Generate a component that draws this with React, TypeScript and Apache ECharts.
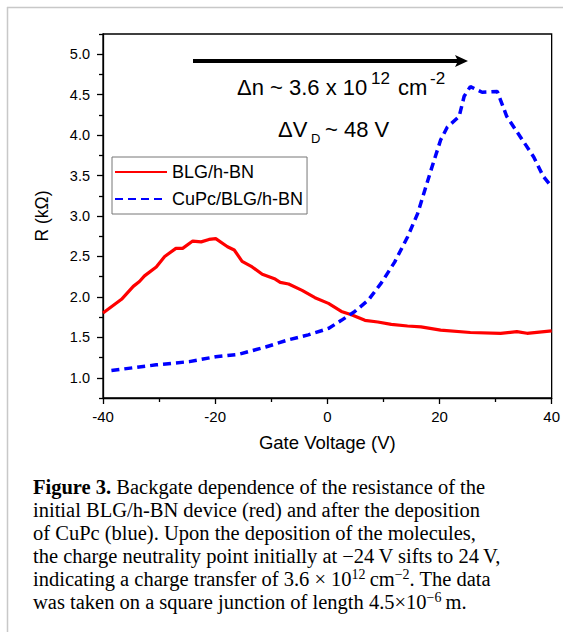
import React, { useEffect, useRef } from 'react';
import * as echarts from 'echarts';

const seriesNames = ['BLG/h-BN', 'CuPc/BLG/h-BN'];
const redV = [-40, -36.7, -34.6, -33.5, -32.6, -30.5, -29, -27, -25.8, -24, -22.5, -21.1, -19.9, -17.8, -16.6, -15.2, -13.4, -11.6, -9.3, -8.4, -6.9, -4.5, -2.2, 0.2, 2.5, 4.3, 6.7, 9, 11.4, 14.3, 16.7, 20.2, 25.5, 30.9, 33.8, 35.6, 40];
const redR = [1.8, 1.97, 2.13, 2.19, 2.26, 2.37, 2.5, 2.6, 2.6, 2.69, 2.68, 2.71, 2.72, 2.62, 2.58, 2.44, 2.37, 2.28, 2.22, 2.18, 2.16, 2.08, 1.99, 1.92, 1.82, 1.78, 1.71, 1.69, 1.66, 1.64, 1.63, 1.59, 1.56, 1.55, 1.57, 1.55, 1.58];
const blueV = [-38.5, -30.5, -24.6, -19.9, -15.8, -11, -6.9, -3.4, 0.2, 2.5, 4.9, 7.3, 9.6, 12, 14.3, 16.1, 18.5, 20.2, 21.4, 23.5, 24.4, 25.5, 27.6, 30.3, 32, 34.4, 36.8, 38.5, 40];
const blueR = [1.09, 1.16, 1.2, 1.26, 1.29, 1.38, 1.47, 1.53, 1.61, 1.71, 1.82, 1.96, 2.17, 2.43, 2.74, 3.03, 3.57, 3.94, 4.1, 4.23, 4.48, 4.6, 4.53, 4.54, 4.23, 3.98, 3.73, 3.49, 3.36];
const yMajor = [1.0, 1.5, 2.0, 2.5, 3.0, 3.5, 4.0, 4.5, 5.0];
const yMinor = [0.75, 1.25, 1.75, 2.25, 2.75, 3.25, 3.75, 4.25, 4.75, 5.25];
const xName = 'Gate Voltage (V)';
const yName = 'R (kΩ)';
const captionLines = [
  '{b|Figure 3.} Backgate dependence of the resistance of the',
  'initial BLG/h-BN device (red) and after the deposition',
  'of CuPc (blue). Upon the deposition of the molecules,',
  'the charge neutrality point initially at \u221224\u2009V sifts to 24\u2009V,',
  'indicating a charge transfer of 3.6 \u00d7 10{sup|12}\u2009cm{sup|\u22122}. The data',
  'was taken on a square junction of length 4.5\u00d710{sup|\u22126}\u2009m.',
];

const SANS = '"Liberation Sans", Arial, sans-serif';
const SERIF = '"Liberation Serif", "Times New Roman", serif';

export default function App() {
  const ref = useRef<HTMLDivElement>(null);
  useEffect(() => {
    if (!ref.current) return;
    const chart = echarts.init(ref.current, undefined, { renderer: 'svg' });
    const pair = (xs: number[], ys: number[]) => xs.map((x, i) => [x, ys[i]]);
    chart.setOption({
      animation: false,
      textStyle: { fontFamily: SANS },
      grid: { left: 103, top: 34, right: 8, bottom: 240, show: true, borderColor: '#000', borderWidth: 1.3, backgroundColor: 'transparent' },
      xAxis: {
        type: 'value', min: -40, max: 40, interval: 20,
        name: xName, nameLocation: 'middle', nameGap: 35,
        nameTextStyle: { fontSize: 18.5, color: '#000', fontFamily: SANS },
        axisLine: { show: true, onZero: false, lineStyle: { color: '#000', width: 1.3 } },
        axisTick: { show: true, length: 6, lineStyle: { color: '#000', width: 1.3 } },
        minorTick: { show: true, splitNumber: 2, length: 4, lineStyle: { color: '#000', width: 1.3 } },
        axisLabel: { color: '#000', fontSize: 15, margin: 11, fontFamily: SANS },
        splitLine: { show: false },
      },
      yAxis: [
        {
          type: 'value', min: 0.75, max: 5.25,
          name: yName, nameLocation: 'middle', nameGap: 52, nameRotate: 90,
          nameTextStyle: { fontSize: 17.5, color: '#000', fontFamily: SANS },
          axisLine: { show: true, onZero: false, lineStyle: { color: '#000', width: 1.3 } },
          axisTick: { show: true, length: 6, customValues: yMajor, lineStyle: { color: '#000', width: 1.3 } },
          axisLabel: { color: '#000', fontSize: 14.5, margin: 13, customValues: yMajor, formatter: (v: number) => v.toFixed(1), fontFamily: SANS },
          splitLine: { show: false },
        },
        {
          type: 'value', min: 0.75, max: 5.25, position: 'left',
          axisLine: { show: false, onZero: false },
          axisTick: { show: true, length: 4, customValues: yMinor, lineStyle: { color: '#000', width: 1.3 } },
          axisLabel: { show: false },
          splitLine: { show: false },
        },
      ],
      legend: {
        orient: 'vertical', left: 112, top: 157,
        itemWidth: 52, itemHeight: 14, itemGap: 9,
        padding: [6, 4, 6, 2],
        borderColor: '#777', borderWidth: 1, backgroundColor: '#fff',
        itemStyle: { opacity: 0 },
        textStyle: { fontSize: 18, color: '#000', fontFamily: SANS },
        data: seriesNames,
      },
      series: [
        {
          name: seriesNames[0], type: 'line', data: pair(redV, redR),
          symbol: 'none', symbolSize: 0, showSymbol: false,
          lineStyle: { color: '#ff0000', width: 3.2 }, itemStyle: { color: '#ff0000' },
        },
        {
          name: seriesNames[1], type: 'line', data: pair(blueV, blueR),
          symbol: 'none', symbolSize: 0, showSymbol: false,
          lineStyle: { color: '#0000ff', width: 3.5, type: [8, 5] }, itemStyle: { color: '#0000ff' },
        },
      ],
      graphic: [
        { type: 'line', shape: { x1: 7.5, y1: 7, x2: 7.5, y2: 632 }, style: { stroke: '#c8c8c8', lineWidth: 1.5 } },
        { type: 'line', shape: { x1: 7, y1: 7.5, x2: 563, y2: 7.5 }, style: { stroke: '#c8c8c8', lineWidth: 1.5 } },
        { type: 'line', shape: { x1: 193, y1: 61, x2: 460, y2: 61 }, style: { stroke: '#000', lineWidth: 4 } },
        { type: 'polygon', shape: { points: [[455, 55], [468, 61], [455, 67], [458, 61]] }, style: { fill: '#000' } },
        { type: 'text', x: 237, y: 87.5, style: { text: 'Δn ~ 3.6 x 10', font: `22px ${SANS}`, fill: '#000', verticalAlign: 'middle' } },
        { type: 'text', x: 371, y: 78.5, style: { text: '12', font: `17px ${SANS}`, fill: '#000', verticalAlign: 'middle' } },
        { type: 'text', x: 398, y: 87.5, style: { text: 'cm', font: `22px ${SANS}`, fill: '#000', verticalAlign: 'middle' } },
        { type: 'text', x: 430, y: 78.5, style: { text: '-2', font: `17px ${SANS}`, fill: '#000', verticalAlign: 'middle' } },
        { type: 'text', x: 278, y: 129.5, style: { text: 'ΔV', font: `22px ${SANS}`, fill: '#000', verticalAlign: 'middle' } },
        { type: 'text', x: 311, y: 138.5, style: { text: 'D', font: `13px ${SANS}`, fill: '#000', verticalAlign: 'middle' } },
        { type: 'text', x: 325, y: 129.5, style: { text: '~ 48 V', font: `22px ${SANS}`, fill: '#000', verticalAlign: 'middle' } },
        {
          type: 'text', x: 33, y: 475.5,
          style: {
            text: captionLines.join('\n'),
            fontFamily: SERIF, fontSize: 20.5, lineHeight: 23, fill: '#000', verticalAlign: 'top',
            rich: {
              b: { fontFamily: SERIF, fontSize: 20.5, lineHeight: 23, fontWeight: 'bold', fill: '#000' },
              sup: { fontFamily: SERIF, fontSize: 14, lineHeight: 13, verticalAlign: 'top', fill: '#000' },
            },
          },
        },
      ],
    });
    return () => chart.dispose();
  }, []);
  return <div ref={ref} style={{ position: 'absolute', left: 0, top: 0, width: 563, height: 638, background: '#fff' }} />;
}
